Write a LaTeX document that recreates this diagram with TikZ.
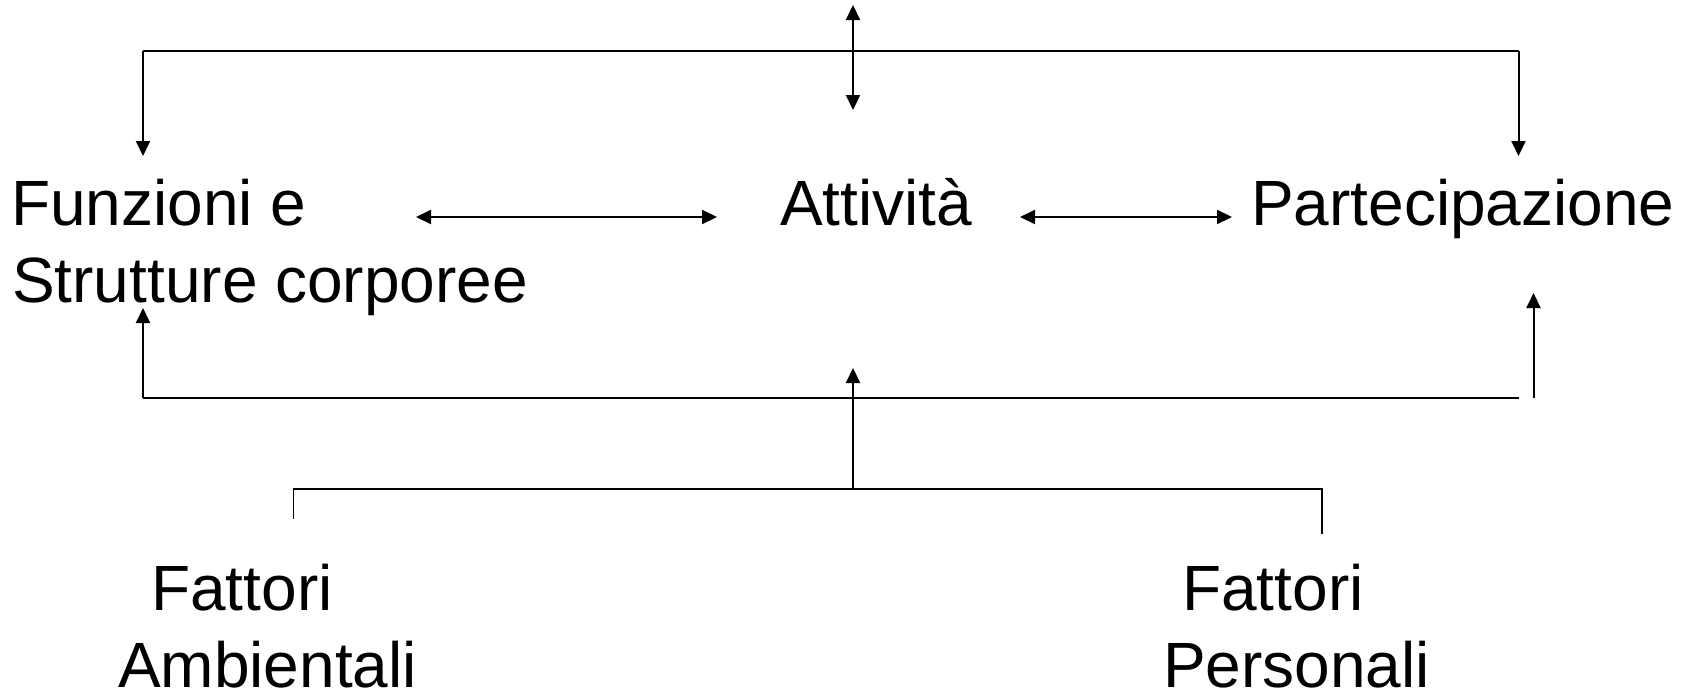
\documentclass[tikz,border=0pt]{standalone}
\usepackage{fontspec}
\setmainfont{Liberation Sans}
\usetikzlibrary{arrows.meta}
\begin{document}
\begin{tikzpicture}[x=1pt,y=-1pt,
  lbl/.style={anchor=base west,inner sep=0pt,font=\fontsize{64}{76}\selectfont},
  conn/.style={line width=2pt,black},
  thin/.style={line width=1.5pt,black},
  arr/.style={conn,-{Triangle[length=15pt,width=14pt]}},
  darr/.style={conn,{Triangle[length=15pt,width=14pt]}-{Triangle[length=15pt,width=14pt]}}]
\useasboundingbox (0,0) rectangle (1690,691);
% text nodes
\node[lbl] (funz1) at (11,225) {Funzioni e};
\node[lbl] (funz2) at (12,302) {Strutture corporee};
\node[lbl] (att) at (780,225) {Attività};
\node[lbl] (part) at (1251,225) {Partecipazione};
\node[lbl] (fa1) at (151,610) {Fattori};
\node[lbl] (fa2) at (118,687) {Ambientali};
\node[lbl] (fp1) at (1182,610) {Fattori};
\node[lbl] (fp2) at (1163,687) {Personali};
% coordinates
\coordinate (tl) at (143,51);
\coordinate (tr) at (1518.5,51);
\coordinate (funTop) at (143,156);
\coordinate (partTop) at (1518.5,156);
\coordinate (vTop) at (853,5);
\coordinate (vBot) at (853,110);
\coordinate (h1a) at (416,217);
\coordinate (h1b) at (717,217);
\coordinate (h2a) at (1020,217);
\coordinate (h2b) at (1232,217);
\coordinate (ml) at (143,398);
\coordinate (mr) at (1518.5,398);
\coordinate (funBot) at (143,308);
\coordinate (prB) at (1533.5,398);
\coordinate (partBot) at (1533.5,293);
\coordinate (cB) at (853,489);
\coordinate (attBot) at (853,368);
\coordinate (bl) at (293.6,519);
\coordinate (blc) at (293.6,489);
\coordinate (brc) at (1322,489);
\coordinate (br) at (1322,534);
% connectors
\draw[conn] (tl) -- (tr);
\draw[arr] (tl) -- (funTop);
\draw[arr] (tr) -- (partTop);
\draw[darr] (vTop) -- (vBot);
\draw[darr] (h1a) -- (h1b);
\draw[darr] (h2a) -- (h2b);
\draw[conn] (ml) -- (mr);
\draw[arr] (ml) -- (funBot);
\draw[arr] (prB) -- (partBot);
\draw[arr] (cB) -- (attBot);
\draw[thin] (bl) -- (blc) -- (brc) -- (br);
\end{tikzpicture}
\end{document}
